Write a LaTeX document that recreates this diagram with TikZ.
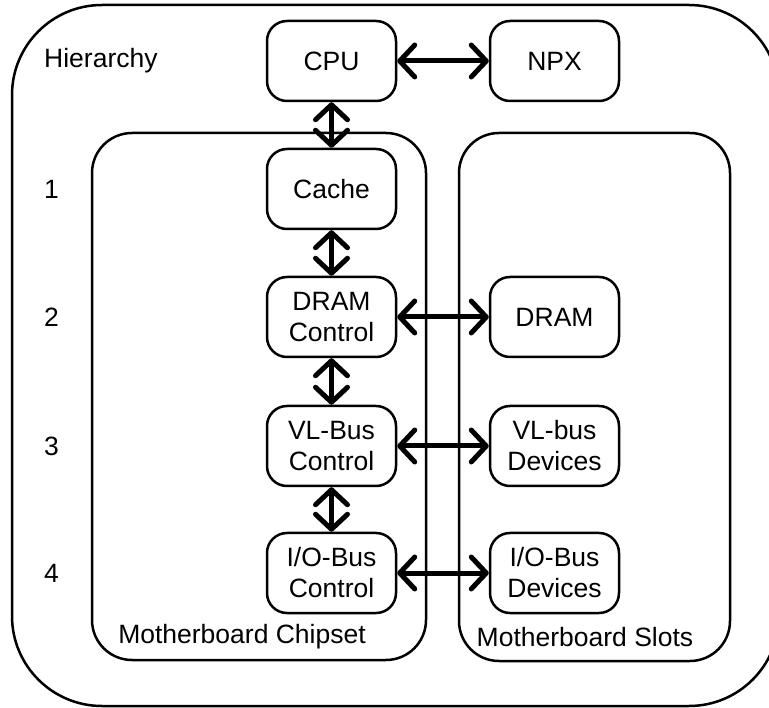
\documentclass[tikz,border=0pt]{standalone}
\usepackage{fontspec}
\setmainfont{Liberation Sans}
\usetikzlibrary{arrows.meta}
\begin{document}
\begin{tikzpicture}[x=1pt,y=-1pt,
  font=\fontsize{26.5}{31}\selectfont,
  boxnode/.style={draw, line width=2.5pt, rounded corners=20pt, minimum width=129pt, minimum height=80pt, align=center, inner sep=2pt},
  bigbox/.style={draw, line width=2.5pt, inner sep=0pt},
  lbl/.style={inner sep=0pt},
  tipb/.tip={Straight Barb[length=15pt,width=32pt,line width=5pt,round]},
  biarrow/.style={line width=5pt, tipb-tipb}]
\useasboundingbox (0,0) rectangle (769,708);
\clip (0,0) rectangle (769,708);
% containers
\node[bigbox, rounded corners=90pt, minimum width=767pt, minimum height=701pt] (outer) at (395.5,355.5) {};
\node[bigbox, rounded corners=40pt, minimum width=334pt, minimum height=527pt] (chipset) at (259,396.5) {};
\node[bigbox, rounded corners=40pt, minimum width=271pt, minimum height=528pt] (slots) at (594.5,397) {};
% labels
\node[lbl, anchor=west] (hier) at (44,61) {Hierarchy};
\node[lbl, anchor=west] (l1) at (44,189) {1};
\node[lbl, anchor=west] (l2) at (44,317) {2};
\node[lbl, anchor=west] (l3) at (44,446) {3};
\node[lbl, anchor=west] (l4) at (44,573) {4};
\node[lbl] (chiplbl) at (242,637) {Motherboard Chipset};
\node[lbl] (slotlbl) at (585,637) {Motherboard Slots};
% nodes
\node[boxnode] (cpu) at (331.5,61) {CPU};
\node[boxnode] (npx) at (554.5,61) {NPX};
\node[boxnode] (cache) at (331.5,189) {Cache};
\node[boxnode] (dramc) at (331.5,317) {DRAM\\Control};
\node[boxnode] (vlc) at (331.5,446) {VL-Bus\\Control};
\node[boxnode] (ioc) at (331.5,573) {I/O-Bus\\Control};
\node[boxnode] (dram) at (554.5,317) {DRAM};
\node[boxnode] (vld) at (554.5,446) {VL-bus\\Devices};
\node[boxnode] (iod) at (554.5,573) {I/O-Bus\\Devices};
% connectors
\draw[biarrow] (cpu) -- (npx);
\draw[biarrow] (cpu) -- (cache);
\draw[biarrow] (cache) -- (dramc);
\draw[biarrow] (dramc) -- (vlc);
\draw[biarrow] (vlc) -- (ioc);
\draw[biarrow] (dramc) -- (dram);
\draw[biarrow] (vlc) -- (vld);
\draw[biarrow] (ioc) -- (iod);
\end{tikzpicture}
\end{document}
